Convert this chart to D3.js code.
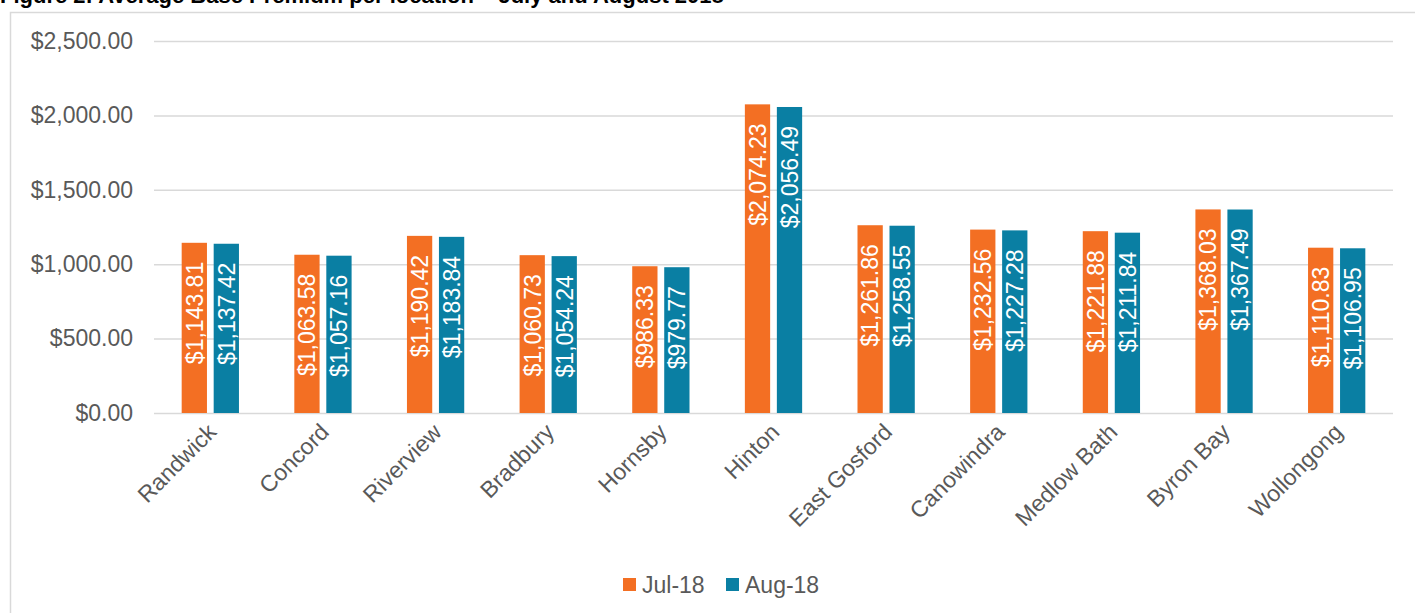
<!DOCTYPE html>
<html>
<head>
<meta charset="utf-8">
<script src="https://cdn.jsdelivr.net/npm/d3@7"></script>
<style>
  body { margin: 0; background: #fff; }
  text { font-family: "Liberation Sans", Arial, sans-serif; }
</style>
</head>
<body>
<div id="viz"></div>
<script>
var locations = ["Randwick", "Concord", "Riverview", "Bradbury", "Hornsby", "Hinton",
  "East Gosford", "Canowindra", "Medlow Bath", "Byron Bay", "Wollongong"];
var seriesNames = ["Jul-18", "Aug-18"];
var jul18 = [1143.81, 1063.58, 1190.42, 1060.73, 986.33, 2074.23, 1261.86, 1232.56, 1221.88, 1368.03, 1110.83];
var aug18 = [1137.42, 1057.16, 1183.84, 1054.24, 979.77, 2056.49, 1258.55, 1227.28, 1211.84, 1367.49, 1106.95];
var yTicks = [0, 500, 1000, 1500, 2000, 2500];
var colors = ["#f36f23", "#0a7fa3"];

var width = 1415, height = 613;
var margin = { top: 41, left: 154, right: 22, bottom: 200 };

var svg = d3.select("#viz").append("svg")
  .attr("width", width)
  .attr("height", height);

// title, mostly cut off at the top edge (as in the source)
svg.append("text")
  .attr("x", 0)
  .attr("y", 3)
  .style("font-size", "22px")
  .style("font-weight", "bold")
  .style("fill", "#000")
  .text("Figure 2: Average Base Premium per location \u2013 July and August 2018");

// chart frame
svg.append("rect")
  .attr("x", 10.5).attr("y", 12.5)
  .attr("width", width + 10).attr("height", height + 10)
  .attr("fill", "none")
  .attr("stroke", "#d9d9d9")
  .attr("stroke-width", 1.5);

var g = svg.append("g")
  .attr("transform", "translate(" + margin.left + "," + margin.top + ")");

var w = width - margin.left - margin.right;
var h = 413 - margin.top;

var y_scale = d3.scaleLinear().domain([0, 2500]).range([h, 0]);
var x_scale = d3.scaleBand().domain(locations).range([0, w]).padding(0);
var x_inner = d3.scaleBand().domain(seriesNames).range([0, x_scale.bandwidth()])
  .paddingInner(0.21).paddingOuter(0.865);

var fmt = d3.format("$,.2f");

// gridlines + y labels
var y_axis = d3.axisLeft(y_scale).tickValues(yTicks).tickSize(-w).tickPadding(21).tickFormat(fmt);
var ya = g.append("g").attr("class", "y axis").call(y_axis);
ya.select(".domain").remove();
ya.selectAll(".tick line").attr("stroke", "#d9d9d9").attr("stroke-width", 1.5);
ya.selectAll(".tick text").style("font-size", "23px").style("fill", "#595959")
  .style("font-family", "'Liberation Sans', Arial, sans-serif");

var rows = locations.map(function(loc, i) {
  return { key: loc, values: [jul18[i], aug18[i]] };
});

var groups = g.selectAll(".grp").data(rows).enter().append("g")
  .attr("class", "grp")
  .attr("transform", function(d) { return "translate(" + x_scale(d.key) + ",0)"; });

var bars = groups.selectAll(".bar")
  .data(function(d) { return d.values.map(function(v, j) { return { s: seriesNames[j], v: v, j: j }; }); })
  .enter();

bars.append("rect")
  .attr("class", "bar")
  .attr("x", function(d) { return x_inner(d.s); })
  .attr("y", function(d) { return y_scale(d.v); })
  .attr("width", x_inner.bandwidth())
  .attr("height", function(d) { return h - y_scale(d.v); })
  .attr("fill", function(d) { return colors[d.j]; });

bars.append("text")
  .attr("transform", function(d) {
    return "translate(" + (x_inner(d.s) + x_inner.bandwidth() / 2) + "," + (y_scale(d.v) + 19) + ")rotate(-90)";
  })
  .attr("text-anchor", "end")
  .attr("dy", "0.36em")
  .style("font-size", "23px")
  .style("fill", "#fff")
  .text(function(d) { return fmt(d.v); });

// x axis labels
var xa = g.append("g").attr("transform", "translate(0," + h + ")");
xa.selectAll("text").data(locations).enter().append("text")
  .attr("transform", function(d) {
    return "translate(" + (x_scale(d) + x_scale.bandwidth() / 2 - 4) + ",9)rotate(-45)";
  })
  .attr("text-anchor", "end")
  .attr("dy", "0.7em")
  .style("font-size", "23px")
  .style("fill", "#595959")
  .text(function(d) { return d; });

// legend
var legend = svg.append("g").attr("transform", "translate(623,578)");
var items = [{ x: 0, name: seriesNames[0], c: colors[0] }, { x: 103, name: seriesNames[1], c: colors[1] }];
items.forEach(function(it) {
  legend.append("rect").attr("x", it.x).attr("y", 0).attr("width", 13).attr("height", 13).attr("fill", it.c);
  legend.append("text").attr("x", it.x + 19).attr("y", 15)
    .style("font-size", "23px").style("fill", "#595959").text(it.name);
});
</script>
</body>
</html>
